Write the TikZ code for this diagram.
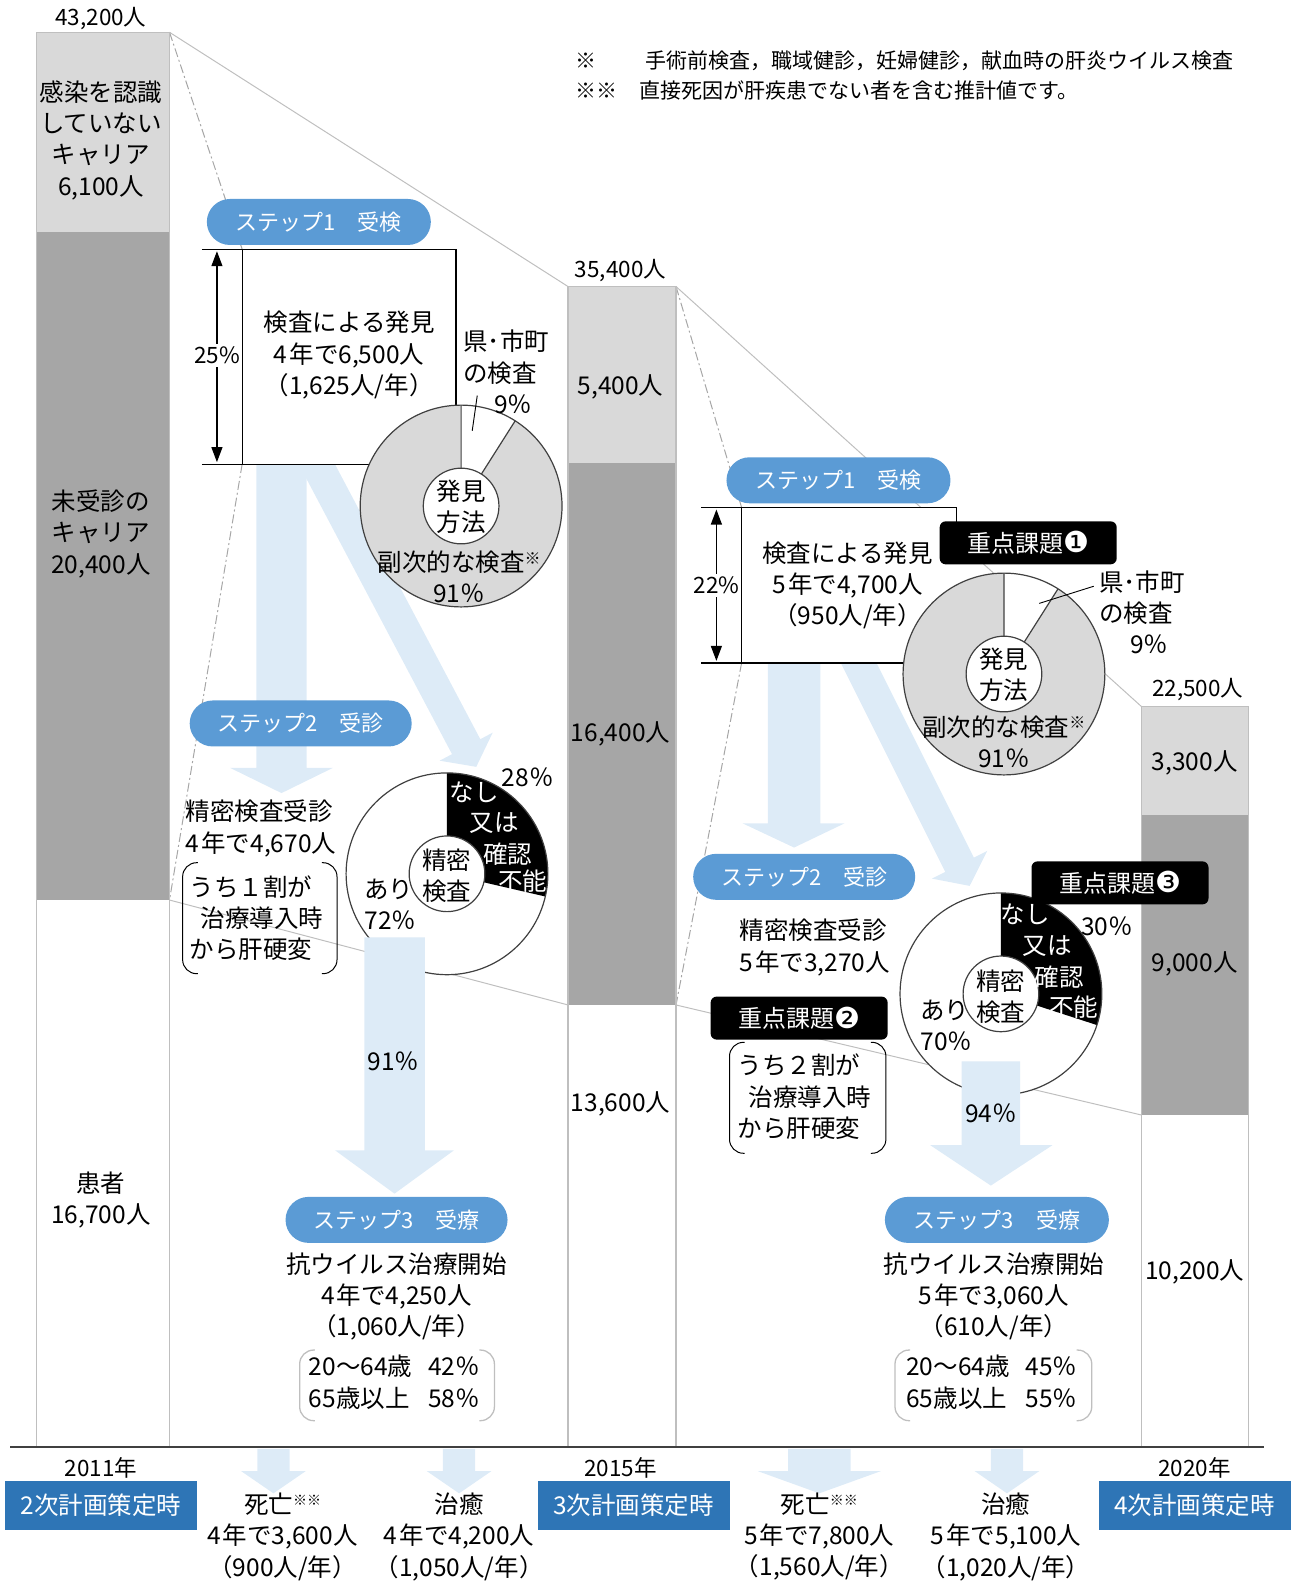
\documentclass[tikz,border=0pt]{standalone}
\usepackage{fontspec}
\setmainfont{Noto Sans CJK JP}
\newfontfamily\dv{DejaVu Sans}
\usetikzlibrary{arrows.meta,calc}
\definecolor{pillc}{HTML}{5B9BD5}
\definecolor{planc}{HTML}{2E75B6}
\definecolor{lblue}{HTML}{DDEBF7}
\definecolor{lgray}{HTML}{D9D9D9}
\definecolor{dgray}{HTML}{A6A6A6}
\definecolor{edgec}{HTML}{BFBFBF}
\definecolor{linec}{HTML}{404040}
\newcommand{\kome}{\raisebox{0.55ex}{\fontsize{16}{16}\selectfont ※}}
\newcommand{\komekome}{\raisebox{0.6ex}{\fontsize{14}{14}\selectfont ※※}}
\newcommand{\maru}[1]{\raisebox{-0.5pt}{\dv\fontsize{29}{29}\selectfont #1}}
\begin{document}
\begin{tikzpicture}[x=1.009pt,y=-1.009pt,
  t/.style={font=\fontsize{24.5}{31.3}\selectfont, align=center, inner sep=0pt},
  ts/.style={font=\fontsize{22.5}{28}\selectfont, align=center, inner sep=0pt},
  wt/.style={t, text=white},
  pillbox/.style={fill=pillc, rounded corners=23pt, minimum height=46pt, minimum width=224pt, text=white, font=\fontsize{22}{26}\selectfont, inner sep=0pt},
  keybox/.style={fill=black, rounded corners=6pt, minimum width=177pt, minimum height=43pt, text=white, font=\fontsize{24}{26}\selectfont, inner sep=0pt},
  planbox/.style={fill=planc, minimum width=192pt, minimum height=49pt, text=white, font=\fontsize{24.5}{26}\selectfont, inner sep=0pt},
  zoomline/.style={edgec, line width=1pt},
  dashdot/.style={dgray, line width=1pt, dash pattern=on 9pt off 3pt on 2pt off 3pt},
  boxline/.style={black, line width=1.2pt},
  pieline/.style={linec, line width=1.2pt},
  brk/.style={black, line width=1pt, rounded corners=14pt},
  brkg/.style={edgec, line width=1.3pt, rounded corners=14pt},
  dimarr/.style={black, line width=1.2pt, {Triangle[width=11pt,length=15pt]}-{Triangle[width=11pt,length=15pt]}},
  barside/.style={edgec, line width=1.3pt}
]
\useasboundingbox (0,0) rectangle (1283.45,1567.89);

% ---------- zoom lines ----------
\draw[zoomline] (168,32) -- (563,284);
\draw[zoomline] (168,892) -- (563,996);
\draw[zoomline] (670,284) -- (1131,700);
\draw[zoomline] (670,996) -- (1131,1105);
\draw[dashdot] (168,32) -- (240,247);
\draw[dashdot] (240,460) -- (168,892);
\draw[dashdot] (670,284) -- (735,503);
\draw[dashdot] (735,657) -- (670,996);

% ---------- bars ----------
\fill[lgray] (36,32) rectangle (168,230);
\fill[dgray] (36,230) rectangle (168,892);
\draw[barside] (36,1434) -- (36,32) -- (168,32) -- (168,1434);
\fill[lgray] (563,284) rectangle (670,459);
\fill[dgray] (563,459) rectangle (670,996);
\draw[barside] (563,1434) -- (563,284) -- (670,284) -- (670,1434);
\fill[lgray] (1131,700) rectangle (1237,808);
\fill[dgray] (1131,808) rectangle (1237,1105);
\draw[barside] (1131,1434) -- (1131,700) -- (1237,700) -- (1237,1434);

\node[ts] (tot1) at (100,18) {43,200人};
\node[ts] (tot2) at (615,268) {35,400人};
\node[ts] (tot3) at (1187,683) {22,500人};
\node[t] (b1a) at (100,139) {感染を認識\\していない\\キャリア\\6,100人};
\node[t] (b1b) at (100,529) {未受診の\\キャリア\\20,400人};
\node[t] (b1c) at (100,1189) {患者\\16,700人};
\node[t] (b2a) at (615,383) {5,400人};
\node[t] (b2b) at (615,727) {16,400人};
\node[t] (b2c) at (615,1094) {13,600人};
\node[t] (b3a) at (1184,756) {3,300人};
\node[t] (b3b) at (1184,955) {9,000人};
\node[t] (b3c) at (1184,1261) {10,200人};

% ---------- notes ----------
\node[anchor=west, inner sep=0pt, font=\fontsize{21}{26}\selectfont] (n1a) at (570,60) {※};
\node[anchor=west, inner sep=0pt, font=\fontsize{21}{26}\selectfont] (n1b) at (640,60) {手術前検査，職域健診，妊婦健診，献血時の肝炎ウイルス検査};
\node[anchor=west, inner sep=0pt, font=\fontsize{21}{26}\selectfont] (n2a) at (570,90) {※※};
\node[anchor=west, inner sep=0pt, font=\fontsize{21}{26}\selectfont] (n2b) at (634,90) {直接死因が肝疾患でない者を含む推計値です。};

% ---------- light blue arrows (behind) ----------
\fill[lblue] (254,440) -- (304,440) -- (304,761) -- (330,761) -- (279,786) -- (228,761) -- (254,761) -- cycle;
\coordinate (dS) at (305,443);
\coordinate (dB) at (462,740);
\coordinate (dT) at (472,760);
\fill[lblue] ($(dS)!16pt!90:(dB)$) -- ($(dB)!16pt!-90:(dS)$) -- ($(dB)!30pt!-90:(dS)$) -- (dT) -- ($(dB)!30pt!90:(dS)$) -- ($(dB)!16pt!90:(dS)$) -- ($(dS)!16pt!-90:(dB)$) -- cycle;
\fill[lblue] (761,640) -- (813,640) -- (813,816) -- (837,816) -- (787,840) -- (736,816) -- (761,816) -- cycle;
\coordinate (eS) at (842,639);
\coordinate (eB) at (951,857);
\coordinate (eT) at (961,878);
\fill[lblue] ($(eS)!16pt!90:(eB)$) -- ($(eB)!16pt!-90:(eS)$) -- ($(eB)!31pt!-90:(eS)$) -- (eT) -- ($(eB)!31pt!90:(eS)$) -- ($(eB)!16pt!90:(eS)$) -- ($(eS)!16pt!-90:(eB)$) -- cycle;

% ---------- section 1 box ----------
\fill[white] (240,247) rectangle (452,460);
\draw[boxline] (200,247) -- (452,247);
\draw[boxline] (200,460) -- (390,460);
\draw[boxline] (240,247) -- (240,460);
\draw[boxline] (452,247) -- (452,420);
\draw[dimarr] (215,249) -- (215,458);
\node[ts, fill=white, inner ysep=3pt] (d25) at (215,352) {25\%};
\node[t] (s1txt) at (346,352) {検査による発見\\4\hspace{2pt}年で6,500人\\（1,625人/年）};

% ---------- section 2 box ----------
\fill[white] (735,503) rectangle (948,657);
\draw[boxline] (695,503) -- (948,503);
\draw[boxline] (695,657) -- (910,657);
\draw[boxline] (735,503) -- (735,657);
\draw[boxline] (948,503) -- (948,540);
\draw[dimarr] (710,505) -- (710,655);
\node[ts, fill=white, inner ysep=3pt] (d22) at (710,580) {22\%};
\node[t] (s2txt) at (840,580) {検査による発見\\5\hspace{2pt}年で4,700人\\（950人/年）};

% ---------- pies ----------
\begin{scope}[shift={(457,501.5)},x=1.009pt,y=1.009pt]
  \fill[lgray] (0,0) circle[radius=100];
  \fill[white] (0,0) -- (90:100) arc[start angle=90,end angle=57.6,radius=100] -- cycle;
  \draw[pieline] (0,0) circle[radius=100];
  \draw[pieline] (90:37.5) -- (90:100) (57.6:37.5) -- (57.6:100);
  \filldraw[pieline, fill=white] (0,0) circle[radius=37.5];
\end{scope}
\begin{scope}[shift={(443,866)},x=1.009pt,y=1.009pt]
  \fill[white] (0,0) circle[radius=100];
  \fill[black] (0,0) -- (90:100) arc[start angle=90,end angle=-13,radius=100] -- cycle;
  \draw[pieline] (0,0) circle[radius=100];
  \filldraw[pieline, fill=white] (0,0) circle[radius=37.5];
\end{scope}
\begin{scope}[shift={(995,668)},x=1.009pt,y=1.009pt]
  \fill[lgray] (0,0) circle[radius=100];
  \fill[white] (0,0) -- (90:100) arc[start angle=90,end angle=57.6,radius=100] -- cycle;
  \draw[pieline] (0,0) circle[radius=100];
  \draw[pieline] (90:37.5) -- (90:100) (57.6:37.5) -- (57.6:100);
  \filldraw[pieline, fill=white] (0,0) circle[radius=37.5];
\end{scope}
\begin{scope}[shift={(992,985)},x=1.009pt,y=1.009pt]
  \fill[white] (0,0) circle[radius=100];
  \fill[black] (0,0) -- (90:100) arc[start angle=90,end angle=-18,radius=100] -- cycle;
  \draw[pieline] (0,0) circle[radius=100];
  \filldraw[pieline, fill=white] (0,0) circle[radius=37.5];
\end{scope}

% ---------- light blue arrows (front) ----------
\fill[lblue] (361,929) -- (421,929) -- (421,1140) -- (450,1140) -- (391,1183) -- (332,1140) -- (361,1140) -- cycle;
\fill[lblue] (953,1052) -- (1011,1052) -- (1011,1135) -- (1043,1135) -- (982,1175) -- (922,1135) -- (953,1135) -- cycle;
\node[t] (a91) at (390,1052) {91％};
\node[t] (a94) at (982,1103) {94％};

% ---------- pie labels ----------
\node[t] (p1c) at (457,502) {発見\\方法};
\node[t] (p1o) at (455,572) {副次的な検査\kome\\91％};
\node[t, align=left, anchor=west] (p1k) at (459,368.5) {県･市町\\の検査\\\hspace*{31pt}9％};
\draw[black, line width=0.9pt] (473,392) -- (468,427);

\node[t] (p3c) at (995,669) {発見\\方法};
\node[t] (p3o) at (995,735) {副次的な検査\kome\\91％};
\node[t, align=left, anchor=west] (p3k) at (1089,607) {県･市町\\の検査\\\hspace*{31pt}9％};
\draw[black, line width=0.9pt] (1030,598) -- (1084,581);

\node[t] (p2c) at (443,868) {精密\\検査};
\node[wt] (p2n1) at (470,785) {なし};
\node[wt] (p2n2) at (490,816) {又は};
\node[wt] (p2n3) at (503,847) {確認};
\node[wt] (p2n4) at (518,873) {不能};
\node[t] (p2p) at (523,770) {28％};
\node[t, align=left, anchor=west] (p2a) at (361,896) {あり\\72％};

\node[t] (p4c) at (992,988) {精密\\検査};
\node[wt] (p4n1) at (1016,906) {なし};
\node[wt] (p4n2) at (1038,938) {又は};
\node[wt] (p4n3) at (1050,968) {確認};
\node[wt] (p4n4) at (1064,998) {不能};
\node[t] (p4p) at (1097,918) {30％};
\node[t, align=left, anchor=west] (p4a) at (912,1016) {あり\\70％};

% ---------- pills and key boxes ----------
\node[pillbox] (st1a) at (316,220) {ステップ1　受検};
\node[pillbox, minimum width=222pt] (st2a) at (298,717) {ステップ2　受診};
\node[pillbox, minimum width=222pt] (st3a) at (393,1209) {ステップ3　受療};
\node[pillbox] (st1b) at (831,476) {ステップ1　受検};
\node[pillbox, minimum width=222pt] (st2b) at (797,869) {ステップ2　受診};
\node[pillbox] (st3b) at (988,1209) {ステップ3　受療};
\node[keybox] (k1) at (1019,538) {重点課題\maru{❶}};
\node[keybox] (k2) at (792,1009) {重点課題\maru{❷}};
\node[keybox] (k3) at (1110,875) {重点課題\maru{❸}};

% ---------- step 2 / 3 texts ----------
\node[t, align=left, anchor=west] (r1) at (184,821) {精密検査受診\\4\hspace{2pt}年で4,670人};
\draw[brk] (196,855) -- (181,855) -- (181,965) -- (196,965);
\draw[brk] (319,855) -- (334,855) -- (334,965) -- (319,965);
\node[t, align=left, anchor=west] (r1b) at (188,910) {うち１割が\\\hspace*{0.45em}治療導入時\\から肝硬変};

\node[t, align=left, anchor=west] (r2) at (733,939) {精密検査受診\\5\hspace{2pt}年で3,270人};
\draw[brk] (738,1033) -- (723,1033) -- (723,1143) -- (738,1143);
\draw[brk] (863,1033) -- (878,1033) -- (878,1143) -- (863,1143);
\node[t, align=left, anchor=west] (r2b) at (731,1087) {うち２割が\\\hspace*{0.45em}治療導入時\\から肝硬変};

\node[t] (q1) at (393,1285) {抗ウイルス治療開始\\4\hspace{2pt}年で4,250人\\（1,060人/年）};
\draw[brkg] (312,1338) -- (297,1338) -- (297,1408) -- (312,1408);
\draw[brkg] (475,1338) -- (490,1338) -- (490,1408) -- (475,1408);
\node[t] (q1b) at (391,1373) {\begin{tabular}{@{}l@{\hspace{16pt}}r@{}}20～64歳 & 42％\\65歳以上 & 58％\end{tabular}};

\node[t] (q2) at (985,1285) {抗ウイルス治療開始\\5\hspace{2pt}年で3,060人\\（610人/年）};
\draw[brkg] (902,1338) -- (887,1338) -- (887,1408) -- (902,1408);
\draw[brkg] (1067,1338) -- (1082,1338) -- (1082,1408) -- (1067,1408);
\node[t] (q2b) at (983,1373) {\begin{tabular}{@{}l@{\hspace{16pt}}r@{}}20～64歳 & 45％\\65歳以上 & 55％\end{tabular}};

% ---------- bottom ----------
\draw[linec, line width=1.5pt] (10,1434) -- (1253,1434);
\fill[lblue] (255,1436) -- (287,1436) -- (287,1458) -- (303,1458) -- (271,1480) -- (239,1458) -- (255,1458) -- cycle;
\fill[lblue] (439,1436) -- (471,1436) -- (471,1458) -- (487,1458) -- (455,1480) -- (423,1458) -- (439,1458) -- cycle;
\fill[lblue] (781,1436) -- (843,1436) -- (843,1458) -- (873,1458) -- (812,1480) -- (751,1458) -- (781,1458) -- cycle;
\fill[lblue] (982,1436) -- (1014,1436) -- (1014,1458) -- (1030,1458) -- (998,1480) -- (966,1458) -- (982,1458) -- cycle;

\node[ts] (y1) at (100,1455) {2011年};
\node[ts] (y2) at (615,1455) {2015年};
\node[ts] (y3) at (1184,1455) {2020年};
\node[planbox] (pl1) at (100,1492) {2次計画策定時};
\node[planbox] (pl2) at (628,1492) {3次計画策定時};
\node[planbox] (pl3) at (1184,1492) {4次計画策定時};

\node[t] (o1) at (280,1523) {死亡\komekome\\4\hspace{2pt}年で3,600人\\（900人/年）};
\node[t] (o2) at (455,1523) {治癒\\4\hspace{2pt}年で4,200人\\（1,050人/年）};
\node[t] (o3) at (812,1523) {死亡\komekome\\5\hspace{2pt}年で7,800人\\（1,560人/年）};
\node[t] (o4) at (997,1523) {治癒\\5\hspace{2pt}年で5,100人\\（1,020人/年）};
\end{tikzpicture}
\end{document}
